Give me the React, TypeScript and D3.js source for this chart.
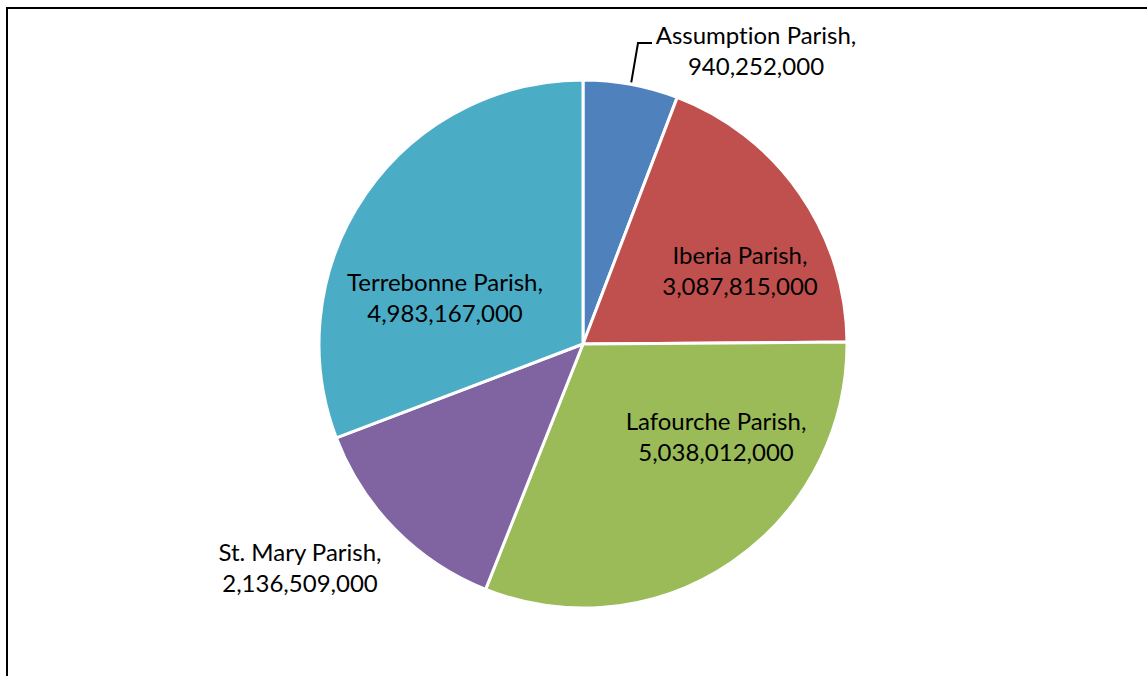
import React from "react";
import * as d3 from "d3";

const parishes = ["Assumption Parish", "Iberia Parish", "Lafourche Parish", "St. Mary Parish", "Terrebonne Parish"];
const values = [940252000, 3087815000, 5038012000, 2136509000, 4983167000];
const colors = ["#4F81BD", "#C0504D", "#9BBB59", "#8064A2", "#4BACC6"];

// label centers (Excel "best fit" placement)
const labelPos: [number, number][] = [
  [756, 36],
  [740, 256],
  [716, 422],
  [300, 553],
  [445, 283],
];

const width = 1147;
const height = 676;
const cx = 583;
const cy = 344;
const radius = 264;

export default function App() {
  const pie = d3.pie<number>().sort(null).value((d) => d)(values);
  const arc = d3.arc<d3.PieArcDatum<number>>().innerRadius(0).outerRadius(radius);
  const fmt = d3.format(",");

  // leader line for Assumption: from slice edge up to label
  const a0 = (pie[0].startAngle + pie[0].endAngle) / 2;
  const lx0 = cx + Math.sin(a0) * (radius + 2);
  const ly0 = cy - Math.cos(a0) * (radius + 2);

  return (
    <svg
      width={width}
      height={height}
      style={{ position: "absolute", left: 0, top: 0, background: "#fff", fontVariantLigatures: "none" }}
      fontFamily="Lato, 'Open Sans', sans-serif"
    >
      <rect x={7} y={8} width={width + 10} height={height + 10} fill="#fff" stroke="#000" strokeWidth={2} />
      <g transform={`translate(${cx},${cy})`}>
        {pie.map((d, i) => (
          <path key={i} d={arc(d) || ""} fill={colors[i]} stroke="#fff" strokeWidth={3} strokeLinejoin="round" />
        ))}
      </g>
      <path
        d={`M${lx0},${ly0}L${labelPos[0][0] - 118},${labelPos[0][1] + 7}H${labelPos[0][0] - 104}`}
        fill="none"
        stroke="#000"
        strokeWidth={2}
      />
      {parishes.map((p, i) => (
        <text key={p} x={labelPos[i][0]} y={labelPos[i][1]} textAnchor="middle" fontSize={24} fill="#000">
          <tspan x={labelPos[i][0]} dy="0.35em">{p + ","}</tspan>
          <tspan x={labelPos[i][0]} dy={31}>{fmt(values[i])}</tspan>
        </text>
      ))}
    </svg>
  );
}
